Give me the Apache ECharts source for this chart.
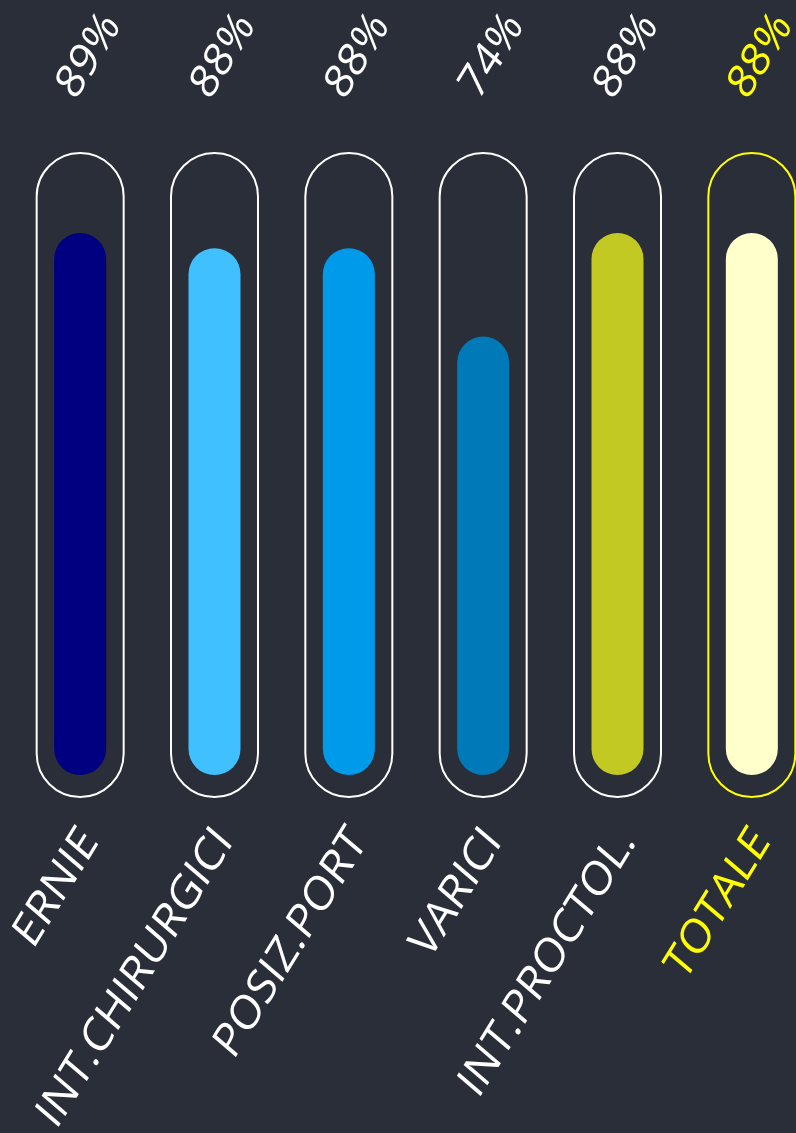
<!DOCTYPE html>
<html>
<head>
<meta charset="utf-8">
<script src="https://cdn.jsdelivr.net/npm/echarts@6/dist/echarts.min.js"></script>
<style>
    html, body { margin: 0; padding: 0; background: #292e38; }
    #chart { width: 796px; height: 1133px; }
</style>
</head>
<body>
<div id="chart"></div>
<script>
// data
const categories = ['ERNIE', 'INT.CHIRURGICI', 'POSIZ.PORT', 'VARICI', 'INT.PROCTOL.', 'TOTALE'];
const barValues = [89, 86.5, 86.5, 72, 89, 89];
const pctLabels = ['89%', '88%', '88%', '74%', '88%', '88%'];
const barColors = ['#000080', '#40c0ff', '#009aea', '#0079b8', '#c3c923', '#ffffcc'];
const frameColors = ['#ffffff', '#ffffff', '#ffffff', '#ffffff', '#ffffff', '#ffff00'];
const labelColors = ['#ffffff', '#ffffff', '#ffffff', '#ffffff', '#ffffff', '#ffff00'];

document.addEventListener('DOMContentLoaded', function() {
    const chart = echarts.init(document.getElementById('chart'));

    const font = 'Open Sans';
    // labels in the picture are rotated and then stretched vertically
    const labelAngle = 54 * Math.PI / 180;
    const stretch = 1.18;

    function slantedLabel(texts, yValue, dx, dy, align, size) {
        return function(params, api) {
            const i = params.dataIndex;
            const pt = api.coord([api.value(0), yValue]);
            return {
                type: 'group',
                x: pt[0] + dx,
                y: pt[1] + dy,
                scaleY: stretch,
                children: [{
                    type: 'text',
                    rotation: labelAngle,
                    style: {
                        text: texts[i],
                        fill: labelColors[i],
                        fontFamily: font,
                        fontSize: size,
                        align: align,
                        verticalAlign: 'middle'
                    }
                }]
            };
        };
    }

    const option = {
        animation: false,
        backgroundColor: '#292e38',
        grid: [
            // capsule frames
            { left: 13, width: 806, top: 152, bottom: 335, outerBoundsMode: 'none', containLabel: false },
            // filled bars
            { left: 13, width: 806, top: 166, bottom: 358, outerBoundsMode: 'none', containLabel: false }
        ],
        xAxis: [
            { type: 'category', gridIndex: 0, data: categories, show: false },
            { type: 'category', gridIndex: 1, data: categories, show: false }
        ],
        yAxis: [
            { type: 'value', gridIndex: 0, min: 0, max: 1, show: false },
            { type: 'value', gridIndex: 1, min: 0, max: 100, show: false }
        ],
        series: [
            {
                type: 'bar',
                xAxisIndex: 0,
                yAxisIndex: 0,
                barWidth: 89,
                silent: true,
                data: categories.map((c, i) => ({
                    value: 1,
                    itemStyle: {
                        color: 'rgba(0,0,0,0)',
                        borderColor: frameColors[i],
                        borderWidth: 2,
                        borderRadius: 45
                    }
                }))
            },
            {
                type: 'bar',
                xAxisIndex: 1,
                yAxisIndex: 1,
                barWidth: 52,
                data: barValues.map((v, i) => ({
                    value: v,
                    itemStyle: {
                        color: barColors[i],
                        borderRadius: 26
                    }
                }))
            },
            // category names under the capsules
            {
                type: 'custom',
                xAxisIndex: 0,
                yAxisIndex: 0,
                clip: false,
                silent: true,
                data: categories.map((c, i) => [i, 0]),
                renderItem: slantedLabel(categories, 0, 10, 36, 'right', 41)
            },
            // percentages above the capsules
            {
                type: 'custom',
                xAxisIndex: 0,
                yAxisIndex: 0,
                clip: false,
                silent: true,
                data: categories.map((c, i) => [i, 1]),
                renderItem: slantedLabel(pctLabels, 1, 9, -96, 'center', 40)
            }
        ]
    };
    chart.setOption(option);
});
</script>
</body>
</html>
